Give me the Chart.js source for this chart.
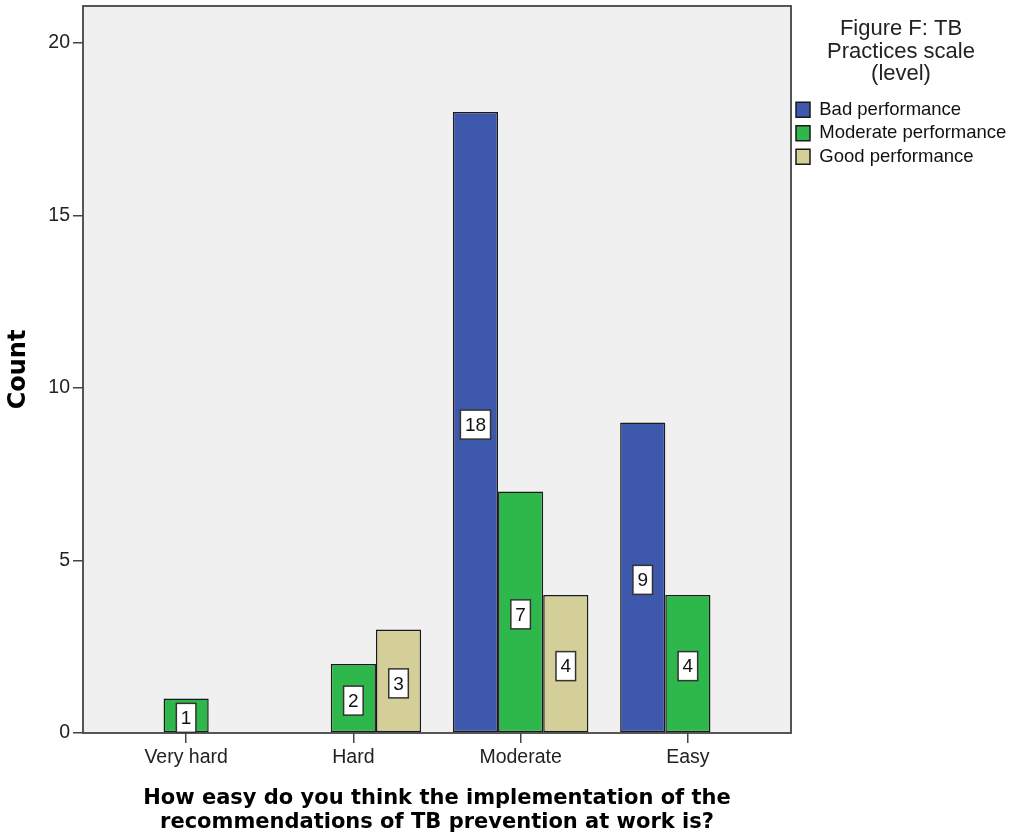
<!DOCTYPE html>
<html>
<head>
<meta charset="utf-8">
<script src="https://cdn.jsdelivr.net/npm/chart.js@4/dist/chart.umd.min.js"></script>
<style>
  html, body { margin: 0; padding: 0; background: #fff; }
  canvas { display: block; }
</style>
</head>
<body>
<canvas id="tbChart" width="1011" height="840"></canvas>
<script>
// data
const categories = ['Very hard', 'Hard', 'Moderate', 'Easy'];
const seriesNames = ['Bad performance', 'Moderate performance', 'Good performance'];
const badCounts = [null, null, 18, 9];
const moderateCounts = [1, 2, 7, 4];
const goodCounts = [null, 3, 4, null];
const yTicks = [0, 5, 10, 15, 20];
const legendTitle = ['Figure F: TB', 'Practices scale', '(level)'];
const xTitle = ['How easy do you think the implementation of the', 'recommendations of TB prevention at work is?'];

const barColors = ['#3e58ac', '#2eb84b', '#d4cf98'];
const REG = '"Liberation Sans", Arial, sans-serif';
const BOLD = '"DejaVu Sans", Verdana, sans-serif';

// SPSS leaves some room between the frame and the outer categories
const insetPlugin = {
    id: 'xInset',
    afterLayout(chart) {
        const x = chart.scales.x;
        const inset = 19.5;
        x.left += inset;
        x.right -= inset;
        x.width -= 2 * inset;
        x.configure();
    }
};

// grey plot background + frame
const framePlugin = {
    id: 'frame',
    beforeDraw(chart) {
        const a = chart.chartArea, ctx = chart.ctx;
        ctx.save();
        ctx.fillStyle = '#f0f0f0';
        ctx.fillRect(a.left, a.top, a.right - a.left, a.bottom - a.top);
        ctx.restore();
    },
    afterDatasetsDraw(chart) {
        const a = chart.chartArea, ctx = chart.ctx;
        ctx.save();
        ctx.strokeStyle = '#444';
        ctx.lineWidth = 1.8;
        ctx.strokeRect(a.left, a.top, a.right - a.left, a.bottom - a.top);
        ctx.restore();
    }
};

// white value boxes in the middle of each bar
const valueBoxPlugin = {
    id: 'valueBoxes',
    afterDatasetsDraw(chart) {
        const ctx = chart.ctx;
        ctx.save();
        ctx.font = '19px ' + REG;
        ctx.textAlign = 'center';
        ctx.textBaseline = 'middle';
        chart.data.datasets.forEach((ds, di) => {
            const meta = chart.getDatasetMeta(di);
            meta.data.forEach((bar, i) => {
                const v = ds.data[i];
                if (v === null || v === undefined) return;
                const txt = String(v);
                const w = ctx.measureText(txt).width + 9;
                const h = 29;
                const cx = bar.x;
                const cy = (bar.y + bar.base) / 2 + 2.5;
                ctx.fillStyle = '#fff';
                ctx.fillRect(cx - w / 2, cy - h / 2, w, h);
                ctx.strokeStyle = '#333';
                ctx.lineWidth = 1.5;
                ctx.strokeRect(cx - w / 2, cy - h / 2, w, h);
                ctx.fillStyle = '#111';
                ctx.fillText(txt, cx, cy + 1);
            });
        });
        ctx.restore();
    }
};

const seriesData = [badCounts, moderateCounts, goodCounts];

new Chart(document.getElementById('tbChart'), {
    type: 'bar',
    data: {
        labels: categories,
        datasets: seriesNames.map((name, i) => ({
            label: name,
            data: seriesData[i],
            backgroundColor: barColors[i],
            borderColor: '#1a1a1a',
            borderWidth: 1.5,
            borderSkipped: false,
            categoryPercentage: 0.81,
            barPercentage: 1
        }))
    },
    options: {
        responsive: false,
        animation: false,
        devicePixelRatio: 1,
        layout: { padding: { top: 6, right: 0, left: 0, bottom: 0 } },
        scales: {
            x: {
                offset: true,
                grid: { display: true, offset: false, drawOnChartArea: false, drawTicks: true, tickLength: 10, color: '#444', lineWidth: 1.5 },
                border: { display: false },
                ticks: { color: '#222', font: { family: REG, size: 19.5 }, padding: 3, maxRotation: 0, autoSkip: false },
                title: {
                    display: true,
                    text: xTitle,
                    color: '#000',
                    font: { family: BOLD, size: 21, weight: 'bold', lineHeight: 1.15 },
                    padding: { top: 0, bottom: 5 }
                },
                afterFit(scale) { scale.height = 107; }
            },
            y: {
                min: 0,
                max: 21.07,
                grid: { display: true, drawOnChartArea: false, drawTicks: true, tickLength: 10, color: '#444', lineWidth: 1.5 },
                border: { display: false },
                ticks: { color: '#222', font: { family: REG, size: 19.5 }, padding: 3 },
                afterBuildTicks(scale) { scale.ticks = yTicks.map(v => ({ value: v })); },
                title: {
                    display: true,
                    text: 'Count',
                    color: '#000',
                    font: { family: BOLD, size: 24, weight: 'bold', lineHeight: 1.2 },
                    padding: { top: 4, bottom: 0 }
                },
                afterFit(scale) {
                    scale.width = 83;
                    scale.paddingTop = 0;
                    scale.paddingBottom = 0;
                }
            }
        },
        plugins: {
            legend: {
                position: 'right',
                align: 'start',
                maxWidth: 220,
                title: {
                    display: true,
                    text: legendTitle,
                    color: '#222',
                    font: { family: REG, size: 22, lineHeight: 1.02 },
                    padding: { top: 12, bottom: 55 }
                },
                labels: {
                    color: '#111',
                    font: { family: REG, size: 18.5 },
                    boxWidth: 14,
                    boxHeight: 15,
                    padding: 5
                }
            },
            tooltip: { enabled: false }
        }
    },
    plugins: [insetPlugin, framePlugin, valueBoxPlugin]
});
</script>
</body>
</html>
